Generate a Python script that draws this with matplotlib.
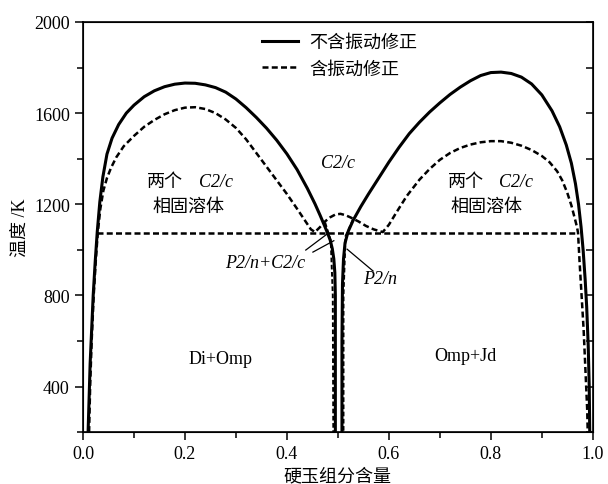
import matplotlib
matplotlib.use("Agg")
import matplotlib.pyplot as plt
from matplotlib.ticker import MultipleLocator

plt.rcParams['font.family'] = ['Liberation Serif', 'Noto Sans CJK SC']

# 不含振动修正 (实线)
solid_left_x = [0.010, 0.012, 0.014, 0.017, 0.020, 0.024, 0.028, 0.033, 0.039, 0.047, 0.057,
                0.070, 0.085, 0.10, 0.12, 0.14, 0.16, 0.18, 0.20, 0.22, 0.24, 0.26,
                0.28, 0.30, 0.32, 0.34, 0.36, 0.38, 0.40, 0.42, 0.44, 0.455, 0.465,
                0.473, 0.48, 0.485, 0.489, 0.492, 0.494, 0.495, 0.495, 0.495]
solid_left_t = [200, 350, 500, 650, 800, 950, 1080, 1210, 1320, 1420, 1490,
                1550, 1600, 1635, 1672, 1698, 1716, 1727, 1732, 1731, 1724, 1712,
                1692, 1662, 1624, 1581, 1534, 1481, 1421, 1352, 1270, 1202, 1152,
                1110, 1072, 1042, 1005, 960, 900, 800, 600, 200]
solid_right_x = [0.508, 0.508, 0.509, 0.511, 0.514, 0.52, 0.53, 0.545, 0.56, 0.58, 0.60,
                 0.62, 0.64, 0.66, 0.68, 0.70, 0.72, 0.74, 0.76, 0.78, 0.80, 0.82,
                 0.84, 0.86, 0.88, 0.90, 0.92, 0.935, 0.948, 0.958, 0.966, 0.972, 0.977,
                 0.981, 0.985, 0.988, 0.991, 0.993, 0.994]
solid_right_t = [200, 600, 850, 960, 1030, 1080, 1130, 1190, 1245, 1315, 1385,
                 1450, 1510, 1560, 1605, 1645, 1682, 1714, 1742, 1765, 1778, 1780,
                 1774, 1758, 1728, 1680, 1610, 1540, 1460, 1380, 1290, 1200, 1100,
                 1000, 870, 750, 580, 400, 200]

# 含振动修正 (虚线)
dash_x = [0.012, 0.014, 0.017, 0.021, 0.025, 0.029, 0.034, 0.040, 0.047, 0.055, 0.065,
          0.08, 0.10, 0.12, 0.14, 0.16, 0.18, 0.20, 0.22, 0.24, 0.26, 0.28,
          0.30, 0.32, 0.34, 0.36, 0.38, 0.40, 0.42, 0.435, 0.447, 0.455,
          0.465, 0.475, 0.485, 0.495, 0.505, 0.515, 0.525, 0.54, 0.555, 0.57, 0.588,
          0.60, 0.615, 0.635, 0.66, 0.68, 0.70, 0.72, 0.74, 0.76, 0.78, 0.80,
          0.82, 0.84, 0.86, 0.88, 0.90, 0.915, 0.93, 0.94, 0.95, 0.958, 0.965,
          0.969, 0.971, 0.974, 0.978, 0.982, 0.986, 0.989, 0.990]
dash_t = [200, 400, 600, 800, 950, 1075, 1180, 1260, 1315, 1360, 1405,
          1455, 1500, 1540, 1570, 1595, 1613, 1624, 1626, 1618, 1600, 1572,
          1535, 1485, 1425, 1365, 1305, 1245, 1180, 1130, 1090, 1078,
          1100, 1125, 1143, 1155, 1158, 1152, 1142, 1125, 1105, 1090, 1078,
          1110, 1165, 1236, 1308, 1355, 1395, 1425, 1447, 1462, 1472, 1477,
          1477, 1470, 1457, 1438, 1412, 1385, 1345, 1305, 1250, 1195, 1135,
          1100, 1075, 950, 800, 650, 450, 300, 200]
dash_mid_l_x = [0.475, 0.486, 0.490, 0.491]
dash_mid_l_t = [1120, 1040, 800, 200]
dash_mid_r_x = [0.530, 0.515, 0.511, 0.511]
dash_mid_r_t = [1135, 1060, 800, 200]

solvus_t = 1075
solvus_x = [0.028, 0.971]

fig = plt.figure(figsize=(6.08, 4.85), dpi=100)
ax = fig.add_axes([0.1365, 0.107, 0.8385, 0.8456])

ax.plot(solid_left_x, solid_left_t, color='black', lw=2.2, label='不含振动修正')
ax.plot(solid_right_x, solid_right_t, color='black', lw=2.2)
ax.plot(dash_x, dash_t, color='black', lw=1.8, dashes=(2.4, 1.3), label='含振动修正')
ax.plot(dash_mid_l_x, dash_mid_l_t, color='black', lw=1.4, dashes=(2.4, 1.3))
ax.plot(dash_mid_r_x, dash_mid_r_t, color='black', lw=1.4, dashes=(2.4, 1.3))
ax.plot(solvus_x, [solvus_t, solvus_t], color='black', lw=1.8, dashes=(2.4, 1.3))

# 指示线
ax.plot([0.437, 0.478], [999, 1068], color='black', lw=0.9)
ax.plot([0.451, 0.492], [990, 1040], color='black', lw=0.9)
ax.plot([0.569, 0.518], [907, 1003], color='black', lw=0.9)

fs = 13
ax.text(0.160, 1298, '两个', fontsize=fs, ha='center', va='center')
ax.text(0.261, 1298, 'C2/c', fontsize=fs, ha='center', va='center', style='italic')
ax.text(0.206, 1192, '相固溶体', fontsize=fs, ha='center', va='center')
ax.text(0.751, 1298, '两个', fontsize=fs, ha='center', va='center')
ax.text(0.849, 1298, 'C2/c', fontsize=fs, ha='center', va='center', style='italic')
ax.text(0.792, 1192, '相固溶体', fontsize=fs, ha='center', va='center')
ax.text(0.500, 1385, 'C2/c', fontsize=fs, ha='center', va='center', style='italic')
ax.text(0.357, 946, 'P2/n+C2/c', fontsize=fs, ha='center', va='center', style='italic')
ax.text(0.582, 872, 'P2/n', fontsize=fs, ha='center', va='center', style='italic')
ax.text(0.269, 525, 'Di+Omp', fontsize=fs, ha='center', va='center')
ax.text(0.750, 535, 'Omp+Jd', fontsize=fs, ha='center', va='center')

ax.set_xlim(0, 1)
ax.set_ylim(200, 2000)
ax.xaxis.set_major_locator(MultipleLocator(0.2))
ax.xaxis.set_minor_locator(MultipleLocator(0.1))
ax.yaxis.set_major_locator(MultipleLocator(400))
ax.yaxis.set_minor_locator(MultipleLocator(200))
ax.set_xticklabels([f'{v:.1f}' for v in ax.get_xticks()])
ax.tick_params(which='major', direction='out', length=6, width=1.1, labelsize=fs)
ax.tick_params(which='minor', direction='out', length=4, width=1.1)
for s in ax.spines.values():
    s.set_linewidth(1.2)

ax2 = ax.twinx()
ax2.set_ylim(200, 2000)
ax2.yaxis.set_major_locator(MultipleLocator(200))
ax2.tick_params(axis='y', direction='in', length=5, width=1.1, labelright=False)

ax.set_xlabel('硬玉组分含量', fontsize=fs, labelpad=4)
ax.set_ylabel('温度 /K', fontsize=fs, labelpad=4)

ax.legend(loc='upper left', bbox_to_anchor=(0.351, 0.97), frameon=False, fontsize=fs,
          handlelength=2.0, handletextpad=0.6, labelspacing=0.5, borderpad=0, borderaxespad=0)

fig.savefig('out.png', dpi=100)
